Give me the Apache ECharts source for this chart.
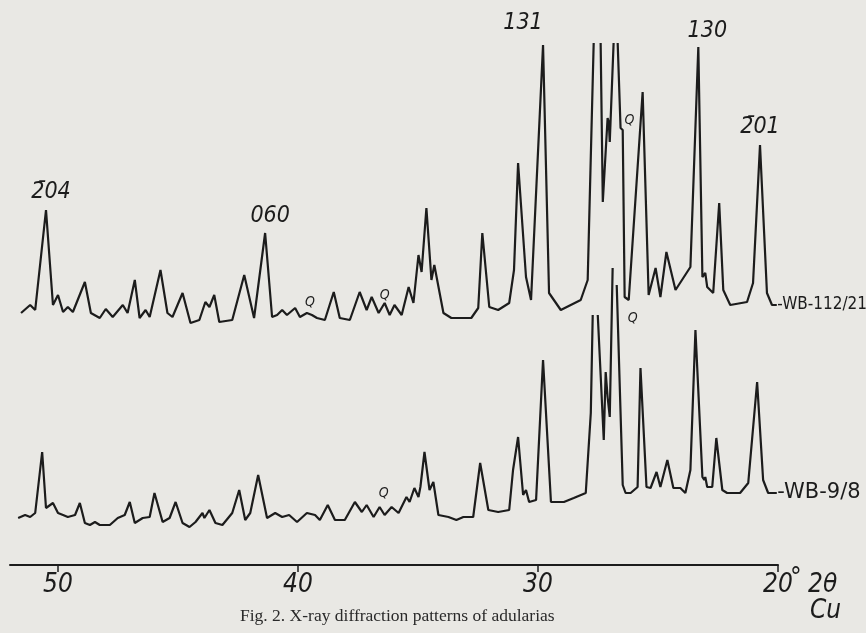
<!DOCTYPE html>
<html>
<head>
<meta charset="utf-8">
<script src="https://cdn.jsdelivr.net/npm/echarts@6/dist/echarts.min.js"></script>
<style>
html, body { margin: 0; padding: 0; background: #e9e8e4; }
#chart { width: 866px; height: 633px; }
</style>
</head>
<body>
<div id="chart"></div>
<script>
// degrees 2-theta (Cu), intensity in arbitrary pen units; null = pen lifted (peak cut off)
const wb112 = [
  [51.54,17],[51.16,25],[50.95,20],[50.50,120],[50.21,25],[50.00,35],[49.79,18],[49.59,23],[49.38,18],
  [48.88,48],[48.63,17],[48.26,12],[48.01,21],[47.72,13],[47.30,25],[47.10,17],[46.80,50],[46.60,12],
  [46.35,20],[46.18,13],[45.73,60],[45.44,17],[45.23,13],[44.81,37],[44.48,7],[44.11,10],[43.86,28],
  [43.69,23],[43.49,35],[43.28,8],[42.74,10],[42.24,55],[41.83,12],[41.37,97],[41.08,13],[40.87,15],
  [40.66,20],[40.46,15],[40.12,22],[39.92,13],[39.63,17],[39.42,15],[39.21,12],[38.88,10],[38.51,38],
  [38.26,12],[37.84,10],[37.43,38],[37.14,20],[36.93,33],[36.64,17],[36.39,27],[36.18,15],[35.98,25],
  [35.68,15],[35.39,43],[35.19,27],[34.98,75],[34.85,58],[34.65,122],[34.44,50],[34.32,65],[33.94,17],
  [33.61,12],[32.78,12],[32.49,22],[32.32,97],[32.03,23],[31.66,20],[31.20,27],[31.00,60],[30.83,167],
  [30.50,53],[30.29,30],[29.79,285],[29.54,37],[29.05,20],[28.22,30],[27.93,50],[27.68,287],[27.55,null],
  [27.39,287],[27.30,128],[27.10,212],[27.05,208],[27.01,188],[26.85,287],[26.77,null],[26.68,287],
  [26.56,202],[26.47,200],[26.39,33],[26.22,30],[25.64,238],[25.39,35],[25.10,62],[24.90,33],[24.65,78],
  [24.27,40],[23.65,63],[23.32,283],[23.15,53],[23.03,57],[22.95,43],[22.70,37],[22.45,127],[22.28,40],
  [21.99,25],[21.29,28],[21.04,47],[20.75,185],[20.46,37],[20.25,25],[20.05,25]
];

const wb98 = [
  [51.66,47],[51.37,50],[51.16,48],[50.95,52],[50.66,113],[50.50,57],[50.21,62],[50.00,52],[49.79,50],
  [49.59,48],[49.29,50],[49.09,62],[48.88,42],[48.67,40],[48.46,43],[48.26,40],[47.84,40],[47.51,47],
  [47.22,50],[47.01,63],[46.80,42],[46.47,47],[46.18,48],[45.98,72],[45.64,43],[45.35,47],[45.10,63],
  [44.81,42],[44.52,38],[44.27,43],[43.98,52],[43.90,47],[43.69,55],[43.44,42],[43.15,40],[42.74,52],
  [42.45,75],[42.20,45],[41.99,52],[41.66,90],[41.29,47],[40.95,52],[40.66,48],[40.37,50],[40.04,43],
  [39.63,52],[39.29,50],[39.09,45],[38.76,60],[38.46,45],[38.05,45],[37.63,63],[37.34,53],[37.14,60],
  [36.85,48],[36.60,58],[36.39,50],[36.10,58],[35.81,52],[35.48,68],[35.35,63],[35.15,77],[34.98,68],
  [34.90,78],[34.73,113],[34.52,75],[34.36,83],[34.15,50],[33.73,48],[33.40,45],[33.11,48],[32.70,48],
  [32.41,102],[32.07,55],[31.66,53],[31.20,55],[31.04,95],[30.83,128],[30.62,70],[30.50,75],[30.37,63],
  [30.08,65],[29.79,205],[29.46,63],[28.92,63],[28.51,67],[28.01,72],[27.80,152],[27.72,250],[27.62,null],
  [27.51,250],[27.26,125],[27.18,193],[27.10,168],[27.01,148],[26.89,297],[26.80,null],[26.72,280],
  [26.47,80],[26.35,72],[26.14,72],[25.85,78],[25.73,197],[25.48,78],[25.31,77],[25.06,93],[24.90,78],
  [24.61,105],[24.36,77],[24.07,77],[23.86,72],[23.65,95],[23.44,235],[23.15,88],[23.07,85],[23.03,88],
  [22.95,78],[22.74,78],[22.57,127],[22.32,75],[22.12,72],[21.58,72],[21.24,82],[20.87,183],[20.62,85],
  [20.41,72],[20.05,72]
];

const xTicks = [20, 30, 40, 50];

// reflection / quartz labels: [2-theta of the point it belongs to, text, dx, dy]
const notes112 = [
  [50.50, '2\u030404', 5, -18],
  [41.37, '060', 5, -17],
  [29.79, '131', -20, -22],
  [23.32, '130', 9, -16],
  [20.75, '2\u030401', 0, -18],
  [39.63, 'Q', 3, -11],
  [36.39, 'Q', 0, -8],
  [26.56, 'Q', 9, -8]
];
const notes98 = [
  [36.60, 'Q', 4, -14],
  [26.72, 'Q', 16, 33]
];

const ink = '#1c1c1c';
const sans = '"DejaVu Sans Condensed", "DejaVu Sans", sans-serif';

function pointAt(data, deg) {
  return data.find(d => d[0] === deg);
}

function marks(data, notes, name, nameFont) {
  const items = notes.map(n => {
    const p = pointAt(data, n[0]);
    const small = n[1] === 'Q';
    return {
      coord: [p[0], p[1]],
      label: {
        formatter: n[1],
        offset: [n[2], n[3]],
        fontSize: small ? 14 : 23,
        fontStyle: 'italic'
      }
    };
  });
  const last = data[data.length - 1];
  items.push({
    coord: [last[0], last[1]],
    label: {
      formatter: '-' + name, position: 'right', distance: 0,
      fontSize: nameFont[0], fontFamily: nameFont[1], fontStyle: 'normal'
    }
  });
  return {
    symbol: 'circle',
    symbolSize: 1,
    silent: true,
    itemStyle: { color: 'rgba(0,0,0,0)' },
    label: { show: true, position: 'inside', color: ink, fontFamily: sans },
    data: items
  };
}

const chart = echarts.init(document.getElementById('chart'), null, { renderer: 'canvas' });

chart.setOption({
  animation: false,
  backgroundColor: '#e9e8e4',
  grid: [
    { left: 10, right: 88, top: 43, height: 287 },
    { left: 10, right: 88, top: 265, bottom: 68 }
  ],
  xAxis: [
    { gridIndex: 0, type: 'value', min: 20, max: 52, inverse: true, show: false },
    {
      gridIndex: 1, type: 'value', min: 20, max: 52, inverse: true, interval: 10,
      axisLine: { show: true, lineStyle: { color: ink, width: 2 } },
      axisTick: { show: true, customValues: xTicks, length: 7, lineStyle: { color: ink, width: 1.5 } },
      axisLabel: {
        customValues: xTicks, color: ink, fontSize: 26, fontStyle: 'italic',
        fontFamily: sans, margin: 7
      },
      splitLine: { show: false }
    }
  ],
  yAxis: [
    { gridIndex: 0, type: 'value', min: 0, max: 287, show: false },
    { gridIndex: 1, type: 'value', min: 0, max: 300, show: false }
  ],
  series: [
    {
      name: 'WB-112/21', type: 'line', xAxisIndex: 0, yAxisIndex: 0,
      data: wb112, showSymbol: false, clip: false, connectNulls: false,
      lineStyle: { color: ink, width: 2.2 },
      markPoint: marks(wb112, notes112, 'WB-112/21', [17, '"DejaVu Sans Condensed", "DejaVu Sans", sans-serif'])
    },
    {
      name: 'WB-9/8', type: 'line', xAxisIndex: 1, yAxisIndex: 1,
      data: wb98, showSymbol: false, clip: false, connectNulls: false,
      lineStyle: { color: ink, width: 2.2 },
      markPoint: marks(wb98, notes98, 'WB-9/8', [21, '"DejaVu Sans", sans-serif'])
    }
  ],
  graphic: [
    { type: 'text', left: 790, top: 566, style: { text: '°', font: 'italic 26px ' + sans, fill: ink } },
    { type: 'text', left: 808, top: 572, style: { text: '2θ', font: 'italic 26px ' + sans, fill: ink } },
    { type: 'text', left: 810, top: 598, style: { text: 'Cu', font: 'italic 26px ' + sans, fill: ink } },
    {
      type: 'text', left: 240, top: 607,
      style: { text: 'Fig. 2. X-ray diffraction patterns of adularias', font: '17.5px "Liberation Serif", serif', fill: '#2a2a2a' }
    }
  ]
});
</script>
</body>
</html>
